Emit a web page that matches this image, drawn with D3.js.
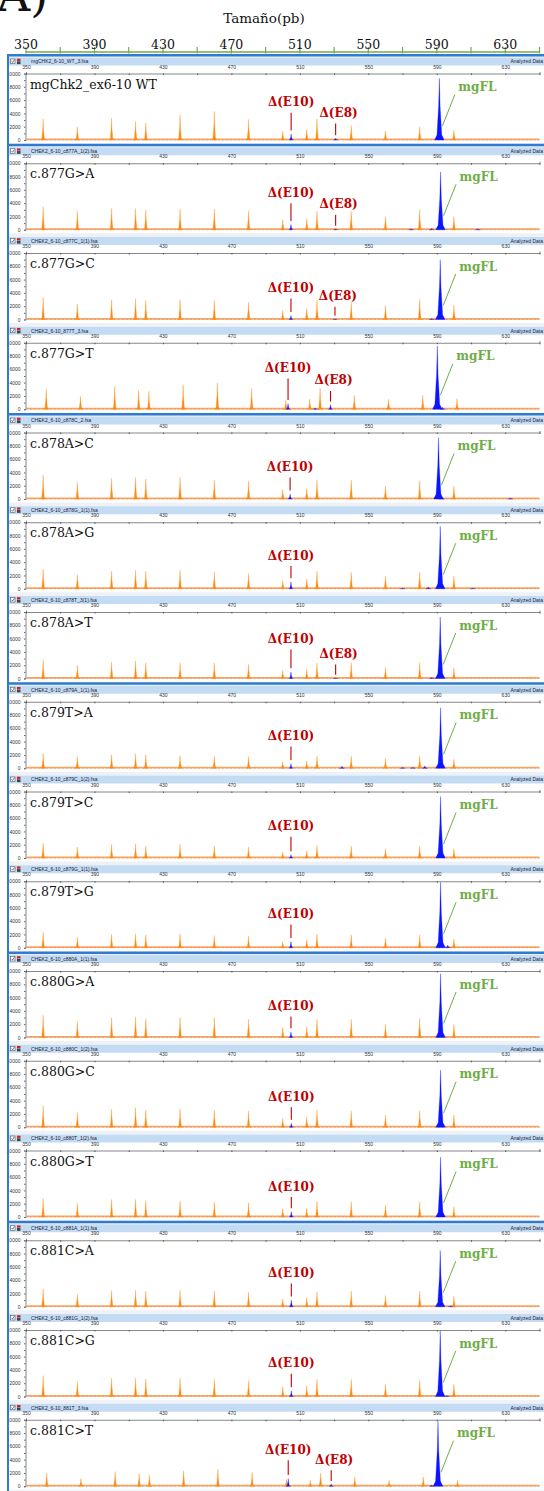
<!DOCTYPE html>
<html>
<head>
<meta charset="utf-8">
<script src="https://cdn.jsdelivr.net/npm/d3@7"></script>
<style>
body { margin: 0; background: #fff; }
svg { display: block; }
</style>
</head>
<body>
<div id="chart"></div>
<script>
// ---- data ----
const panelNames = ["mgChk2_ex6-10 WT", "c.877G>A", "c.877G>C", "c.877G>T", "c.878A>C", "c.878A>G", "c.878A>T",
    "c.879T>A", "c.879T>C", "c.879T>G", "c.880G>A", "c.880G>C", "c.880G>T", "c.881C>A", "c.881C>G", "c.881C>T"];
const fileNames = ["mgCHK2_6-10_WT_3.fsa", "CHEK2_6-10_c877A_1(2).fsa", "CHEK2_6-10_c877C_1(1).fsa", "CHEK2_6-10_877T_3.fsa",
    "CHEK2_6-10_c878C_2.fsa", "CHEK2_6-10_c878G_1(1).fsa", "CHEK2_6-10_c878T_3(1).fsa", "CHEK2_6-10_c879A_1(1).fsa",
    "CHEK2_6-10_c879C_1(2).fsa", "CHEK2_6-10_c879G_1(1).fsa", "CHEK2_6-10_c880A_1(1).fsa", "CHEK2_6-10_c880C_1(2).fsa",
    "CHEK2_6-10_c880T_1(2).fsa", "CHEK2_6-10_c881A_1(1).fsa", "CHEK2_6-10_c881G_1(2).fsa", "CHEK2_6-10_881T_3.fsa"];

// size standard (orange) fragments, bp
const stdSizes = [360, 380, 400, 414, 420, 440, 460, 480, 500, 514, 520, 540, 560, 580, 600];
const stdHeights = [
    [3200, 2000, 3300, 2800, 2600, 3800, 4300, 3100, 1300, 1600, 3200, 2200, 1400, 2000, 1500],
    [3500, 2800, 3200, 3200, 3000, 3100, 3100, 2800, 1500, 1700, 2800, 2800, 2000, 3000, 2000],
    [3350, 2350, 3000, 3150, 2850, 3000, 2850, 2600, 1400, 1650, 2900, 2600, 2100, 3100, 2150],
    [3100, 1950, 3450, 2850, 2700, 3700, 4000, 3100, 1350, 1500, 3200, 2100, 1500, 2100, 1600],
    [3600, 2500, 3100, 3250, 3000, 3250, 2850, 2700, 1450, 1600, 2850, 2850, 1950, 2750, 1950],
    [3000, 2150, 2650, 2800, 2650, 2800, 2550, 2300, 1250, 1500, 2650, 2500, 1900, 2500, 1900],
    [2750, 2000, 2500, 2650, 2350, 2350, 2350, 2150, 1250, 1350, 2350, 2350, 1650, 2400, 1600],
    [2250, 1750, 2050, 2150, 2050, 1950, 1850, 1750, 950, 1100, 1850, 1850, 1450, 1850, 1350],
    [2250, 1650, 2050, 2150, 1800, 2050, 1800, 1650, 900, 1050, 1900, 1800, 1400, 1800, 1400],
    [2350, 1600, 2050, 2100, 1950, 2100, 1850, 1800, 950, 1200, 2050, 1950, 1450, 1950, 1300],
    [3350, 2400, 3000, 3100, 2850, 3000, 3000, 2750, 1500, 1650, 2750, 2750, 2000, 2900, 2000],
    [3200, 2250, 2750, 2950, 2600, 2750, 2600, 2450, 1350, 1500, 2600, 2450, 1850, 2500, 1850],
    [2800, 2050, 2650, 2650, 2500, 2400, 2250, 2150, 1300, 1400, 2400, 2300, 1800, 2300, 1550],
    [2700, 1950, 2450, 2500, 2350, 2500, 2350, 2200, 1200, 1350, 2250, 2350, 1700, 2350, 1600],
    [3150, 2250, 2750, 2750, 2650, 2750, 2600, 2400, 1500, 1600, 2600, 2600, 1850, 2400, 1850],
    [2000, 1150, 2200, 1900, 1700, 2350, 2600, 2100, 1000, 900, 2000, 1350, 900, 1400, 900]
];
// apparent sizing offset of the standard in some runs, bp
const stdShift = [0, 0, 0, 1.8, 0, 0, 0, 0, 0, 0, 0, 0, 0, 0, 0, 2.1];

// sample (blue) peaks: [size bp, height RFU]
const e10Peaks = [[504.9, 900], [504.8, 800], [504.8, 600], [503.1, 850], [504.3, 750], [504.8, 1050], [504.8, 1000], [504.8, 700],
    [504.8, 500], [504.8, 950], [504.8, 850], [505, 600], [505, 800], [505, 1000], [505, 850], [503.2, 1150]];
const e8Peaks = [[530.9, 250], [530.9, 150], [530.5, 100], [527.9, 700], null, null, [530.9, 100], null,
    null, null, null, null, null, null, null, [528.3, 350]];
const mgflPeaks = [[591.5, 9300], [592.2, 8700], [592, 9000], [590.3, 9500], [591, 9200], [592, 9400], [592, 9250], [592.2, 9100],
    [592.2, 9250], [592.2, 9850], [592.2, 9600], [592.2, 8600], [592.2, 9000], [592, 8450], [592, 9900], [590.7, 9750]];
const minorBlue = [
    [], [[575, 150], [587, 200], [614, 150]], [[587, 150]], [[519, 200], [593.4, 300]], [[593, 250], [633, 150]],
    [[570, 100], [585, 250], [611, 100]], [[587, 150]], [[534.6, 300], [570, 150], [576, 150], [583, 350]],
    [], [[596.4, 400]], [], [], [], [[598, 150]], [[596, 150]], [[587, 200]]
];

const topTicks = [350, 390, 430, 470, 510, 550, 590, 630];
const yTicks = [0, 2000, 4000, 6000, 8000, 10000];
const groupStarts = [0, 1, 4, 7, 10, 13];

// ---- layout ----
const W = 544, H = 1491;
const panelTop0 = 57.5, pitch = 89.75;
const e10LabelDy = [48.7, 49.4, 55, 45.3, 54.4, 53.3, 47, 54.3, 54.7, 52.7, 55, 56, 56, 52.7, 53.3, 50];
const e8LabelDy = [59.4, 61, 63.3, 57.6, 0, 0, 62, 0, 0, 0, 0, 0, 0, 0, 0, 60];

const orange = "#ff8a12", blue = "#0a14ff", red = "#c00000", green = "#70ad47", frameBlue = "#2e7bcf";
const serif = "'DejaVu Serif', serif", sans = "'Liberation Sans', Arial, sans-serif";

const svg = d3.select("#chart").append("svg")
    .attr("width", W)
    .attr("height", H);

svg.append("rect").attr("width", W).attr("height", H).attr("fill", "#fff");

const x = d3.scaleLinear().domain([350, 650]).range([26, 539.5]);

// figure letter and title
svg.append("text")
    .attr("x", -3).attr("y", 11)
    .attr("font-family", serif)
    .attr("font-size", 46)
    .attr("fill", "#111")
    .text("A)");

svg.append("text")
    .attr("x", 264).attr("y", 23)
    .attr("text-anchor", "middle")
    .attr("font-family", serif)
    .attr("font-size", 13.5)
    .attr("fill", "#111")
    .text("Tamaño(pb)");

// top size axis (green)
const topAxis = svg.append("g").attr("transform", "translate(0,52)");
topAxis.append("line")
    .attr("x1", x(350)).attr("x2", x(650))
    .attr("stroke", green).attr("stroke-width", 1.5);
topAxis.selectAll("line.tk")
    .data(d3.range(350, 651, 20))
    .join("line")
    .attr("class", "tk")
    .attr("x1", d => x(d)).attr("x2", d => x(d))
    .attr("y1", -5).attr("y2", 1.5)
    .attr("stroke", green).attr("stroke-width", 1.2);
topAxis.selectAll("text")
    .data(topTicks)
    .join("text")
    .attr("x", d => x(d)).attr("y", -3)
    .attr("text-anchor", "middle")
    .attr("font-family", serif)
    .attr("font-size", 12.5)
    .attr("fill", "#111")
    .text(d => d);

// frame background
svg.append("rect")
    .attr("x", 8).attr("y", 55)
    .attr("width", W - 8).attr("height", H - 55)
    .attr("fill", "#eef1f5");

const peakArea = d3.area()
    .x(d => d[0])
    .y0(d => d[2])
    .y1(d => d[1]);

// spike outline: narrow tip on a slightly wider foot
function peakPath(xs, y, pos, h, w) {
    const pts = [[pos - w, 0], [pos - w * 0.5, h * 0.08], [pos - w * 0.15, h * 0.55], [pos, h],
        [pos + w * 0.15, h * 0.55], [pos + w * 0.5, h * 0.08], [pos + w, 0]];
    return peakArea(pts.map(p => [xs(p[0]), y(p[1]), y(0)]));
}

panelNames.forEach((name, i) => {
    const top = panelTop0 + i * pitch;
    const g = svg.append("g").attr("transform", `translate(0,${top})`);
    const y = d3.scaleLinear().domain([0, 10000]).range([82.5, 16]);

    g.append("rect").attr("x", 9).attr("y", 0).attr("width", W - 9).attr("height", 86).attr("fill", "#fff");

    // header bar
    g.append("rect").attr("x", 9).attr("y", 0).attr("width", W - 9).attr("height", 8).attr("fill", "#c4dbf4");
    g.append("rect").attr("x", 10.5).attr("y", 1.5).attr("width", 4.5).attr("height", 4.5)
        .attr("fill", "#fff").attr("stroke", "#555").attr("stroke-width", 0.6);
    g.append("path").attr("d", "M11.5,3.8 L12.6,5 L14.3,2.3").attr("fill", "none").attr("stroke", "#222").attr("stroke-width", 0.6);
    g.append("rect").attr("x", 17).attr("y", 1.2).attr("width", 3.5).attr("height", 2.2).attr("fill", "#d02020");
    g.append("rect").attr("x", 17).attr("y", 3.8).attr("width", 3.5).attr("height", 2.8).attr("fill", "#444");
    g.append("text").attr("x", 31).attr("y", 5.8)
        .attr("font-family", sans).attr("font-size", 5)
        .attr("fill", "#223").text(fileNames[i]);
    g.append("text").attr("x", 543).attr("y", 5.8)
        .attr("text-anchor", "end")
        .attr("font-family", sans).attr("font-size", 5)
        .attr("fill", "#223").text("Analyzed Data");

    // panel size axis
    const ax = g.append("g").attr("transform", "translate(0,16)")
        .call(d3.axisTop(x).tickValues(d3.range(350, 651, 20)).tickSize(1.5)
            .tickFormat(d => topTicks.includes(d) ? d : ""));
    ax.select(".domain").attr("stroke", "#555").attr("stroke-width", 0.7);
    ax.selectAll(".tick line").attr("stroke", "#555").attr("y2", 1.5);
    ax.selectAll(".tick text").attr("font-family", sans).attr("font-size", 5).attr("fill", "#333").attr("dy", -0.5);

    // RFU axis
    const ay = g.append("g").attr("transform", "translate(25.5,0)")
        .call(d3.axisLeft(y).tickValues(d3.range(0, 10001, 1000)).tickSize(1.5)
            .tickFormat(d => yTicks.includes(d) ? d : ""));
    ay.select(".domain").attr("stroke", "#555").attr("stroke-width", 0.7);
    ay.selectAll(".tick line").attr("stroke", "#666");
    ay.selectAll(".tick text").attr("font-family", sans).attr("font-size", 5).attr("fill", "#333").attr("dx", -0.5);

    // baseline noise band
    g.append("line").attr("x1", x(350)).attr("x2", x(650))
        .attr("y1", y(0) - 0.6).attr("y2", y(0) - 0.6)
        .attr("stroke", "#ffa552").attr("stroke-width", 1.6);
    g.append("line").attr("x1", x(350)).attr("x2", x(650))
        .attr("y1", y(0)).attr("y2", y(0))
        .attr("stroke", "#a78be0").attr("stroke-width", 0.6).attr("stroke-dasharray", "1.5,2.5");

    // size standard peaks
    const xs = v => x(v + stdShift[i]);
    g.selectAll("path.std")
        .data(stdSizes.map((s, k) => [s, stdHeights[i][k]]))
        .join("path")
        .attr("class", "std")
        .attr("d", d => peakPath(xs, y, d[0], d[1], 1.4))
        .attr("fill", orange)
        .attr("stroke", orange)
        .attr("stroke-width", 0.3);

    // sample peaks
    const bluePeaks = [e10Peaks[i], e8Peaks[i]].filter(d => d).map(d => [d[0], d[1], 1.3])
        .concat(minorBlue[i].map(d => [d[0], d[1], 1.5]))
        .concat([[mgflPeaks[i][0], mgflPeaks[i][1], 2.8]]);
    g.selectAll("path.smp")
        .data(bluePeaks)
        .join("path")
        .attr("class", "smp")
        .attr("d", d => peakPath(x, y, d[0], d[1], d[2]))
        .attr("fill", blue)
        .attr("stroke", blue)
        .attr("stroke-width", 0.3);

    // panel name
    g.append("text").attr("x", 30).attr("y", 31)
        .attr("font-family", serif).attr("font-size", 12.5)
        .attr("fill", "#111").text(name);

    // annotations
    const e10x = x(e10Peaks[i][0]);
    g.append("text").attr("x", e10x).attr("y", e10LabelDy[i])
        .attr("text-anchor", "middle")
        .attr("font-family", serif).attr("font-weight", "bold").attr("font-size", 12)
        .attr("fill", red).text("Δ(E10)");
    g.append("line").attr("x1", e10x).attr("x2", e10x)
        .attr("y1", e10LabelDy[i] + 6.5).attr("y2", y(e10Peaks[i][1]) - 3.5)
        .attr("stroke", red).attr("stroke-width", 1.1);

    if (e8Peaks[i]) {
        const e8x = x(e8Peaks[i][0]);
        g.append("text").attr("x", e8x + 3).attr("y", e8LabelDy[i])
            .attr("text-anchor", "middle")
            .attr("font-family", serif).attr("font-weight", "bold").attr("font-size", 12)
            .attr("fill", red).text("Δ(E8)");
        g.append("line").attr("x1", e8x).attr("x2", e8x)
            .attr("y1", e8LabelDy[i] + 6.5).attr("y2", Math.min(y(e8Peaks[i][1]) - 3, 79))
            .attr("stroke", red).attr("stroke-width", 1.1);
    }

    const fx = x(mgflPeaks[i][0]);
    g.append("text").attr("x", fx + 19).attr("y", 33.5)
        .attr("font-family", serif).attr("font-weight", "bold").attr("font-size", 12)
        .attr("fill", green).text("mgFL");
    g.append("line").attr("x1", fx + 15.5).attr("y1", 37)
        .attr("x2", fx + 3).attr("y2", 68.5)
        .attr("stroke", green).attr("stroke-width", 1);
});

// group separators and left frame
svg.selectAll("line.sep")
    .data(groupStarts)
    .join("line")
    .attr("class", "sep")
    .attr("x1", 7).attr("x2", W)
    .attr("y1", d => panelTop0 + d * pitch - 2.3)
    .attr("y2", d => panelTop0 + d * pitch - 2.3)
    .attr("stroke", frameBlue).attr("stroke-width", 2.6);
svg.append("line")
    .attr("x1", 8).attr("x2", 8)
    .attr("y1", 54).attr("y2", H)
    .attr("stroke", frameBlue).attr("stroke-width", 2);
</script>
</body>
</html>
